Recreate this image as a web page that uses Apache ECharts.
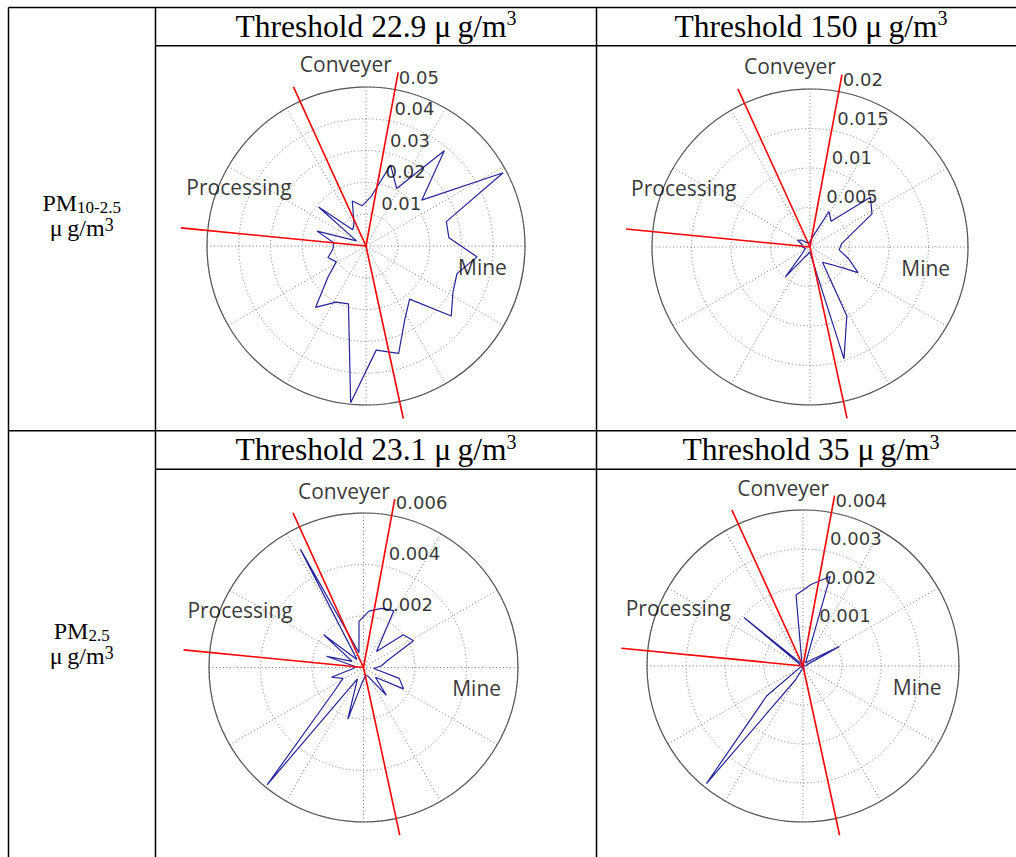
<!DOCTYPE html>
<html>
<head>
<meta charset="utf-8">
<script src="https://cdn.jsdelivr.net/npm/echarts@6/dist/echarts.min.js"></script>
<style>
html,body{margin:0;padding:0;background:#fff;}
#chart{width:1016px;height:857px;}
</style>
</head>
<body>
<div id="chart"></div>
<script>
// ---- data ----
// direction bins (compass bearing, degrees clockwise from north)
const binBearings = [5.6, 16.9, 28.1, 39.4, 50.6, 61.9, 73.1, 84.4, 95.6, 106.9, 118.1, 129.4,
  140.6, 151.9, 163.1, 174.4, 185.6, 196.9, 208.1, 219.4, 230.6, 241.9, 253.1, 264.4,
  275.6, 286.9, 298.1, 309.4, 320.6, 331.9, 343.1, 354.4];

// PM10-2.5, threshold 22.9 ug/m3
const pm10Thr229 = [0.0155, 0.0266, 0.0205, 0.0388, 0.0227, 0.0489, 0.0264, 0.0262, 0.0351, 0.0299, 0.0310, 0.0347,
  0.0216, 0.0260, 0.0353, 0.0329, 0.0495, 0.0190, 0.0200, 0.0250, 0.0155, 0.0106, 0.0125, 0.0105,
  0.0102, 0.0161, 0.0034, 0.0193, 0.0066, 0.0080, 0.0148, 0.0127];
// PM10-2.5, threshold 150 ug/m3
const pm10Thr150 = [0.0008, 0.0015, 0.0051, 0.0042, 0.0099, 0.0089, 0.0054, 0.0040, 0.0037, 0.0051, 0.0069, 0.0035,
  0.0025, 0.0099, 0.0148, 0.0010, 0.0006, 0.0010, 0.0015, 0.0049, 0.0012, 0.0008, 0.0006, 0.0008,
  0.0012, 0.0010, 0.0018, 0.0014, 0.0008, 0.0006, 0.0005, 0.0006];
// PM2.5, threshold 23.1 ug/m3
const pm25Thr231 = [0.0022, 0.0024, 0.0025, 0.0008, 0.0020, 0.0022, 0.0010, 0.0007, 0.0004, 0.00145, 0.00176, 0.0006,
  0.0014, 0.0004, 0.0003, 0.0004, 0.0006, 0.0021, 0.0005, 0.0059, 0.0015, 0.0009, 0.0013, 0.0004,
  0.0003, 0.0015, 0.0005, 0.0020, 0.0004, 0.0052, 0.0006, 0.0018];
// PM2.5, threshold 35 ug/m3
const pm25Thr35 = [0.0021, 0.0024, 0.0002, 0.0001, 0.0002, 0.00106, 0.0001, 0.0001, 0.0, 0.0, 0.0, 0.0,
  0.0, 0.0, 0.0001, 0.0, 0.0, 0.0001, 0.0004, 0.0039, 0.0012, 0.0001, 0.0, 0.0,
  0.0, 0.0001, 0.0001, 0.00195, 0.0001, 0.0, 0.0001, 0.00183];

const headerValues = ['22.9', '150', '23.1', '35'];
const rowLabelMain = ['PM', 'PM'];
const rowLabelSub = ['10-2.5', '2.5'];
const radiusMax = [0.05, 0.02, 0.006, 0.004];
const radiusStep = [0.01, 0.005, 0.002, 0.001];
const tickLabels = [
  ['0.01', '0.02', '0.03', '0.04', '0.05'],
  ['0.005', '0.01', '0.015', '0.02'],
  ['0.002', '0.004', '0.006'],
  ['0.001', '0.002', '0.003', '0.004']
];
const sectorNames = ['Conveyer', 'Processing', 'Mine'];
const sectorNameBearings = [353.8, 295, 100.5];
const sectorNameRadius = [1.147, 0.878, 0.748];     // fraction of outer ring
const boundaryBearings = [10.5, 335.5, 275.6, 167.8];
const boundaryLength = [1.11, 1.10, 1.17, 1.11];   // fraction of outer ring
const tickLabelBearing = 8;

// ---- layout ----
const plotSeries = [pm10Thr229, pm10Thr150, pm25Thr231, pm25Thr35];
const polarLayout = [
  {center: [366, 246], radius: 159},
  {center: [810, 247], radius: 158},
  {center: [363.5, 667.5], radius: 154.5},
  {center: [803, 666], radius: 156}
];

const polar = [], angleAxis = [], radiusAxis = [], series = [];
const dotted = {color: '#7a7a7a', width: 1, type: [1, 2.5]};

plotSeries.forEach(function (vals, i) {
  const rmax = radiusMax[i];
  polar.push({center: polarLayout[i].center, radius: polarLayout[i].radius});
  angleAxis.push({
    polarIndex: i, type: 'value', min: 0, max: 360, interval: 30,
    startAngle: 90, clockwise: true,
    axisLine: {show: true, lineStyle: {color: '#555', width: 1.2}},
    axisTick: {show: false}, axisLabel: {show: false},
    splitLine: {show: true, lineStyle: dotted}
  });
  radiusAxis.push({
    polarIndex: i, type: 'value', min: 0, max: rmax, interval: radiusStep[i],
    axisLine: {show: false}, axisTick: {show: false}, axisLabel: {show: false},
    splitLine: {show: true, lineStyle: dotted}
  });
  const pts = binBearings.map(function (b, k) { return [vals[k], b]; });
  pts.push(pts[0]);
  series.push({
    type: 'line', coordinateSystem: 'polar', polarIndex: i, data: pts,
    symbol: 'none', clip: false, silent: true,
    lineStyle: {color: '#23239c', width: 1.2}, z: 3
  });
  // sector boundary lines (extend beyond the outer ring)
  series.push({
    type: 'custom', coordinateSystem: 'polar', polarIndex: i, silent: true, z: 4,
    data: boundaryBearings.map(function (b, j) { return [boundaryLength[j] * rmax, b]; }),
    renderItem: function (params, api) {
      const len = api.value(0), b = api.value(1);
      const c = api.coord([0, b]);
      const m = api.coord([rmax, b]);
      const f = len / rmax;
      return {
        type: 'line',
        shape: {x1: c[0], y1: c[1], x2: c[0] + (m[0] - c[0]) * f, y2: c[1] + (m[1] - c[1]) * f},
        style: {stroke: '#ff0000', lineWidth: 1.6}
      };
    }
  });
  series.push({
    type: 'scatter', coordinateSystem: 'polar', polarIndex: i, clip: false, silent: true,
    symbolSize: 1, itemStyle: {color: 'rgba(0,0,0,0)'}, z: 5,
    data: tickLabels[i].map(function (t) { return [Number(t) + radiusStep[i] / 20, tickLabelBearing]; }),
    label: {
      show: true, position: [11, 0], align: 'left', verticalAlign: 'bottom',
      fontFamily: 'DejaVu Sans', fontSize: 18, color: '#000',
      formatter: function (p) { return tickLabels[i][p.dataIndex]; }
    }
  });
  series.push({
    type: 'scatter', coordinateSystem: 'polar', polarIndex: i, clip: false, silent: true,
    symbolSize: 1, itemStyle: {color: 'rgba(0,0,0,0)'}, z: 5,
    data: sectorNames.map(function (n, j) {
      return {name: n, value: [sectorNameRadius[j] * rmax, sectorNameBearings[j]]};
    }),
    label: {
      show: true, position: [0, 0], align: 'center', verticalAlign: 'middle',
      fontFamily: 'Open Sans', fontSize: 21, color: '#000', formatter: '{b}'
    }
  });
});

// ---- table frame & texts ----
function hline(x1, x2, y) { return {type: 'line', silent: true, shape: {x1: x1, y1: y, x2: x2, y2: y}, style: {stroke: '#000', lineWidth: 1.5}}; }
function vline(x, y1, y2) { return {type: 'line', silent: true, shape: {x1: x, y1: y1, x2: x, y2: y2}, style: {stroke: '#000', lineWidth: 1.5}}; }
const serif = 'Liberation Serif, Times New Roman, serif';
const graphic = [
  hline(8.5, 1016, 7.5), vline(8.5, 7.5, 857), vline(155.5, 7.5, 857), vline(596.5, 7.5, 857),
  hline(155.5, 1016, 45.7), hline(8.5, 1016, 430.7), hline(155.5, 1016, 469.3)
];
const headerPos = [[376, 26.2], [811, 26.2], [376, 449.9], [811, 449.9]];
headerValues.forEach(function (v, i) {
  graphic.push({
    type: 'text', silent: true, x: headerPos[i][0], y: headerPos[i][1],
    style: {
      text: '{a|Threshold ' + v + ' \u03bc\u2009g/m}{b|3}', align: 'center', verticalAlign: 'middle',
      rich: {
        a: {fontFamily: serif, fontSize: 31.5, lineHeight: 36, fill: '#000'},
        b: {fontFamily: serif, fontSize: 20, lineHeight: 20, verticalAlign: 'top', fill: '#000'}
      }
    }
  });
});
const rowLabelY = [215.5, 643.5];
rowLabelMain.forEach(function (m, r) {
  graphic.push({
    type: 'text', silent: true, x: 81.7, y: rowLabelY[r],
    style: {
      text: '{a|' + m + '}{s|' + rowLabelSub[r] + '}\n{a|\u03bc\u2009g/m}{b|3}',
      align: 'center', verticalAlign: 'middle',
      rich: {
        a: {fontFamily: serif, fontSize: 24, lineHeight: 24.5, fill: '#000'},
        s: {fontFamily: serif, fontSize: 17, lineHeight: 15, verticalAlign: 'bottom', fill: '#000'},
        b: {fontFamily: serif, fontSize: 18, lineHeight: 19.6, verticalAlign: 'top', fill: '#000'}
      }
    }
  });
});

const chart = echarts.init(document.getElementById('chart'), null, {renderer: 'svg'});
chart.setOption({
  animation: false,
  backgroundColor: '#fff',
  polar: polar, angleAxis: angleAxis, radiusAxis: radiusAxis,
  series: series,
  graphic: graphic
});
</script>
</body>
</html>
